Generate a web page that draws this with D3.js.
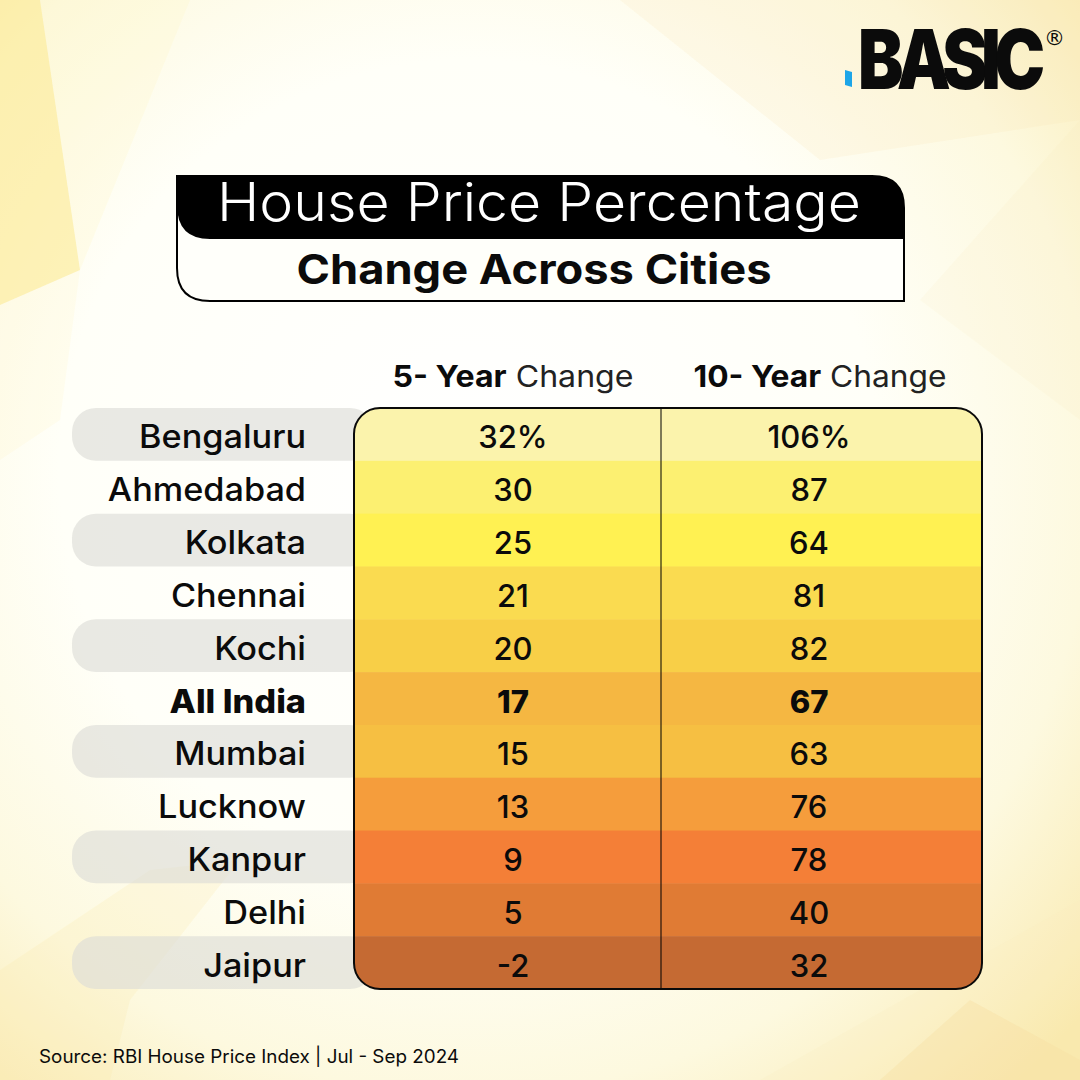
<!DOCTYPE html>
<html>
<head>
<meta charset="utf-8">
<script src="https://cdn.jsdelivr.net/npm/d3@7"></script>
<style>
	html, body { margin: 0; padding: 0; background: #fff; }
	svg { display: block; }
	text { font-family: "Inter", "Noto Sans", sans-serif; fill: #0b0b0b; }
</style>
</head>
<body>
<svg id="chart" width="1080" height="1080" viewBox="0 0 1080 1080"></svg>
<script>
const cities = ["Bengaluru", "Ahmedabad", "Kolkata", "Chennai", "Kochi", "All India", "Mumbai", "Lucknow", "Kanpur", "Delhi", "Jaipur"];
const fiveYear = ["32%", "30", "25", "21", "20", "17", "15", "13", "9", "5", "-2"];
const tenYear = ["106%", "87", "64", "81", "82", "67", "63", "76", "78", "40", "32"];
const rowColors = ["#fbf3ac", "#fcf071", "#fff152", "#fadb50", "#f8cf47", "#f5b742", "#f6bf42", "#f59d3c", "#f47f37", "#e07b34", "#c56a33"];
const columns = ["5- Year", "10- Year"];
const highlightCity = "All India";

const svg = d3.select("#chart");
const defs = svg.append("defs");

// background
const bg = defs.append("radialGradient").attr("id", "bg-gradient")
	.attr("gradientUnits", "userSpaceOnUse")
	.attr("cx", 470).attr("cy", 470).attr("r", 820);
[[0, "#ffffff"], [0.5, "#fffff8"], [0.76, "#fdf9df"], [1, "#f9e9ae"]].forEach(d => {
	bg.append("stop").attr("offset", d[0]).attr("stop-color", d[1]);
});
svg.append("rect").attr("width", 1080).attr("height", 1080).attr("fill", "url(#bg-gradient)");

// faint facets behind everything
const facets = [
	["0,0 40,0 80,270 0,305", "#fbe98f", 0.6],
	["40,0 190,0 80,270", "#fef6c0", 0.22],
	["0,305 80,270 60,420 0,460", "#fdf3c0", 0.18],
	["620,0 1080,0 1080,120 820,160", "#f8e6b4", 0.18],
	["1080,120 1080,420 920,300", "#f9e8b2", 0.12],
	["0,1080 0,970 150,870 240,860 130,1000 110,1080", "#fbe6a8", 0.22],
	["880,1080 970,1000 1080,1060 1080,1080", "#f8dfa2", 0.4],
	["760,1080 1080,900 1080,1000 970,1000 880,1080", "#fbeec0", 0.22]
];
svg.append("g").selectAll("polygon")
	.data(facets)
	.enter().append("polygon")
		.attr("points", d => d[0])
		.attr("fill", d => d[1])
		.attr("opacity", d => d[2]);

// logo
svg.append("path").attr("d", "M845 70 L852 72 L852 87 L845 85 Z").attr("fill", "#1da5e8");
svg.append("text")
	.attr("transform", "translate(858,89) scale(0.83,1)")
	.attr("font-size", 82).attr("font-weight", 900)
	.attr("letter-spacing", -8)
	.text("BASIC");
svg.append("text").attr("x", 1044).attr("y", 45)
	.attr("font-size", 21).attr("font-weight", 400)
	.style("font-family", "DejaVu Sans")
	.text("®");

// title box
svg.append("path")
	.attr("d", "M177 176 H872 Q904 176 904 208 V301 H210 Q177 301 177 268 Z")
	.attr("fill", "#fffffa").attr("stroke", "#000").attr("stroke-width", 2);
svg.append("path")
	.attr("d", "M177 176 H872 Q904 176 904 208 V239 H210 Q177 239 177 205 Z")
	.attr("fill", "#000");
svg.append("text").attr("x", 539).attr("y", 221)
	.attr("text-anchor", "middle").attr("font-size", 53).attr("font-weight", 350)
	.attr("textLength", 644).attr("lengthAdjust", "spacingAndGlyphs")
	.style("fill", "#fff")
	.text("House Price Percentage");
svg.append("text").attr("x", 534).attr("y", 284)
	.attr("text-anchor", "middle").attr("font-size", 41).attr("font-weight", 700)
	.attr("textLength", 475).attr("lengthAdjust", "spacingAndGlyphs")
	.text("Change Across Cities");

// scales
const tableLeft = 354, tableRight = 982, tableTop = 408, tableBottom = 989;
const y = d3.scaleBand().domain(cities).range([tableTop, tableBottom]);
const x = d3.scalePoint().domain(columns).range([513, 809]);
const dividerX = (x(columns[0]) + x(columns[1])) / 2;

// column headers
const headerWidths = [241, 253];
const header = svg.append("g").selectAll("text")
	.data(columns)
	.enter().append("text")
		.attr("x", d => x(d) + (d === columns[0] ? 0 : 11))
		.attr("y", 387)
		.attr("text-anchor", "middle")
		.attr("font-size", 30)
		.attr("textLength", (d, i) => headerWidths[i])
		.attr("lengthAdjust", "spacingAndGlyphs");
header.append("tspan").attr("font-weight", 700).text(d => d);
header.append("tspan").attr("font-weight", 400).style("fill", "#222").text(" Change");

// city pills, every other row
svg.append("g").selectAll("rect")
	.data(cities.filter((d, i) => i % 2 === 0))
	.enter().append("rect")
		.attr("x", 72)
		.attr("y", d => y(d))
		.attr("width", tableLeft - 72 + 20)
		.attr("height", y.bandwidth())
		.attr("rx", 24)
		.attr("fill", "#dcdcd6")
		.attr("opacity", 0.62);

// city labels, stretched a little because the original face runs wider
svg.append("g").selectAll("text")
	.data(cities)
	.enter().append("text")
		.attr("x", 306)
		.attr("y", d => y(d) + y.bandwidth() / 2 + 14)
		.attr("text-anchor", "end")
		.attr("font-size", 32)
		.attr("font-weight", d => d === highlightCity ? 800 : 550)
		.text(d => d)
		.each(function() {
			d3.select(this)
				.attr("textLength", this.getComputedTextLength() * 1.07)
				.attr("lengthAdjust", "spacingAndGlyphs");
		});

// table rows, clipped to the rounded frame
defs.append("clipPath").attr("id", "table-clip")
	.append("rect")
		.attr("x", tableLeft).attr("y", tableTop)
		.attr("width", tableRight - tableLeft).attr("height", tableBottom - tableTop)
		.attr("rx", 26);

svg.append("g").attr("clip-path", "url(#table-clip)")
	.selectAll("rect")
	.data(cities)
	.enter().append("rect")
		.attr("x", tableLeft)
		.attr("y", d => y(d))
		.attr("width", tableRight - tableLeft)
		.attr("height", y.bandwidth() + 0.5)
		.attr("fill", (d, i) => rowColors[i]);

svg.append("line")
	.attr("x1", dividerX).attr("x2", dividerX)
	.attr("y1", tableTop).attr("y2", tableBottom)
	.attr("stroke", "#000").attr("stroke-width", 1);

svg.append("rect")
	.attr("x", tableLeft).attr("y", tableTop)
	.attr("width", tableRight - tableLeft).attr("height", tableBottom - tableTop)
	.attr("rx", 26)
	.attr("fill", "none").attr("stroke", "#0a0a0a").attr("stroke-width", 2);

// cell values
[fiveYear, tenYear].forEach((values, c) => {
	svg.append("g").selectAll("text")
		.data(values)
		.enter().append("text")
			.attr("x", x(columns[c]))
			.attr("y", (d, i) => y(cities[i]) + y.bandwidth() / 2 + 14)
			.attr("text-anchor", "middle")
			.attr("font-size", 31)
			.attr("font-weight", (d, i) => cities[i] === highlightCity ? 800 : 500)
			.text(d => d);
});

// source
svg.append("text").attr("x", 39).attr("y", 1063)
	.attr("font-size", 18).attr("font-weight", 400)
	.attr("textLength", 420).attr("lengthAdjust", "spacingAndGlyphs")
	.text("Source: RBI House Price Index | Jul - Sep 2024");
</script>
</body>
</html>
